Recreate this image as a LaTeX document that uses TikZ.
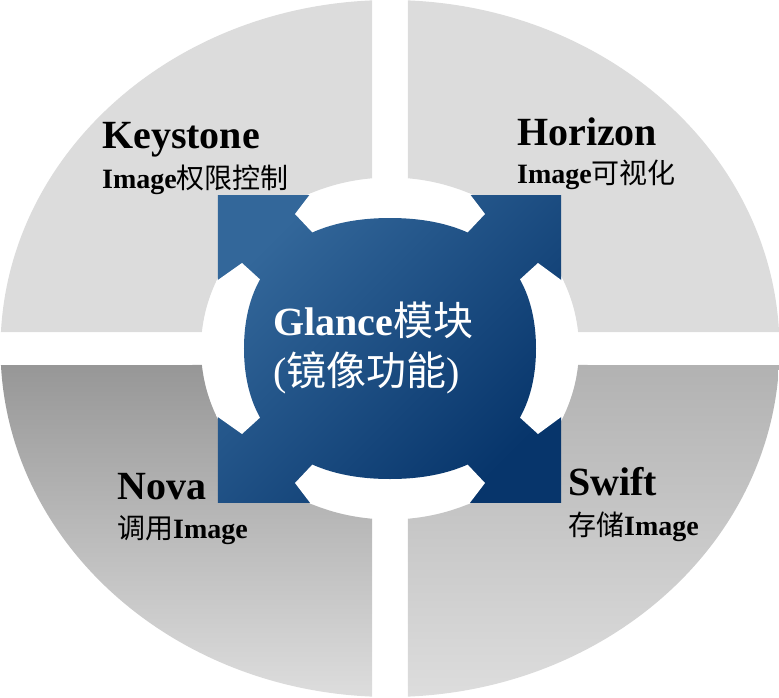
\documentclass[tikz,border=0pt]{standalone}
\usepackage{fontspec}
\setmainfont{Liberation Serif}
\newfontfamily\cjk{Noto Sans CJK SC}
\definecolor{qgray}{HTML}{DCDCDC}
\definecolor{qblA}{HTML}{979797}
\definecolor{qbrA}{HTML}{B2B2B2}
\definecolor{qbot}{HTML}{DDDDDD}
\definecolor{sqA}{HTML}{33679A}
\definecolor{sqB}{HTML}{07356B}
\tikzset{
  sqshade/.style={top color=sqA, bottom color=sqB, shading angle=45},
  ttl/.style={anchor=base west, inner sep=0pt, font=\fontsize{40}{48}\selectfont\bfseries},
  subt/.style={anchor=base west, inner sep=0pt, font=\fontsize{28}{34}\selectfont},
  ctr/.style={anchor=base west, inner sep=0pt, text=white, font=\fontsize{40}{48}\selectfont},
  seg/.style={fill=white, draw=none}
}
\begin{document}
\begin{tikzpicture}[x=1pt,y=1pt]
\useasboundingbox (-390,-348.5) rectangle (389,348.5);
% quadrants of the ring
\fill[qgray] (177.286:389.5pt and 348.5pt) arc[start angle=177.286, end angle=92.649, x radius=389.5pt, y radius=348.5pt]
  -- (95.465:189pt and 171pt) arc[start angle=95.465, end angle=174.463, x radius=189pt, y radius=171pt] -- cycle;
\fill[qgray] (2.714:389.5pt and 348.5pt) arc[start angle=2.714, end angle=87.351, x radius=389.5pt, y radius=348.5pt]
  -- (84.535:189pt and 171pt) arc[start angle=84.535, end angle=5.537, x radius=189pt, y radius=171pt] -- cycle;
\shade[top color=qblA, bottom color=qbot] (182.714:389.5pt and 348.5pt) arc[start angle=182.714, end angle=267.351, x radius=389.5pt, y radius=348.5pt]
  -- (264.535:189pt and 171pt) arc[start angle=264.535, end angle=185.537, x radius=189pt, y radius=171pt] -- cycle;
\shade[top color=qbrA, bottom color=qbot] (-2.714:389.5pt and 348.5pt) arc[start angle=-2.714, end angle=-87.351, x radius=389.5pt, y radius=348.5pt]
  -- (-84.535:189pt and 171pt) arc[start angle=-84.535, end angle=-5.537, x radius=189pt, y radius=171pt] -- cycle;
% centre square
\shade[sqshade] (-172,-153.5) rectangle (171,153.5);
% white segments
\fill[seg] (-79,155.5) -- (79,155.5) -- (95,134.5) -- (70,108) -- (-70,108) -- (-95,134.5) -- cycle;
\fill[seg] (-79,-155.5) -- (79,-155.5) -- (95,-134.5) -- (70,-108) -- (-70,-108) -- (-95,-134.5) -- cycle;
\fill[seg] (-173.5,67.5) -- (-148,85.5) -- (-120,60) -- (-120,-60) -- (-148,-85.5) -- (-173.5,-67.5) -- cycle;
\fill[seg] (172.5,67.5) -- (148,85.5) -- (120,60) -- (120,-60) -- (148,-85.5) -- (172.5,-67.5) -- cycle;
% blob
\begin{scope}
\clip (146,0) .. controls (146,83.5) and (93.4,130.5) .. (0,130.5)
  .. controls (-93.4,130.5) and (-146,83.5) .. (-146,0)
  .. controls (-146,-83.5) and (-93.4,-130.5) .. (0,-130.5)
  .. controls (93.4,-130.5) and (146,-83.5) .. cycle;
\shade[sqshade] (-172,-153.5) rectangle (171,153.5);
\end{scope}
% texts
\node[ttl] (ks) at (-288,200.5) {Keystone};
\node[subt] (kss) at (-288,160.5) {{\bfseries Image}{\cjk 权限控制}};
\node[ttl] (hz) at (127,203.5) {Horizon};
\node[subt] (hzs) at (127,165.5) {{\bfseries Image}{\cjk 可视化}};
\node[ttl] (nv) at (-273,-150.5) {Nova};
\node[subt] (nvs) at (-273,-189.5) {{\cjk 调用}{\bfseries Image}};
\node[ttl] (sw) at (178,-146.5) {Swift};
\node[subt] (sws) at (178,-186.5) {{\cjk 存储}{\bfseries Image}};
\node[ctr] (gl1) at (-117,13.5) {{\bfseries Glance}{\cjk 模块}};
\node[ctr] (gl2) at (-117,-36.5) {({\cjk 镜像功能})};
\end{tikzpicture}
\end{document}
